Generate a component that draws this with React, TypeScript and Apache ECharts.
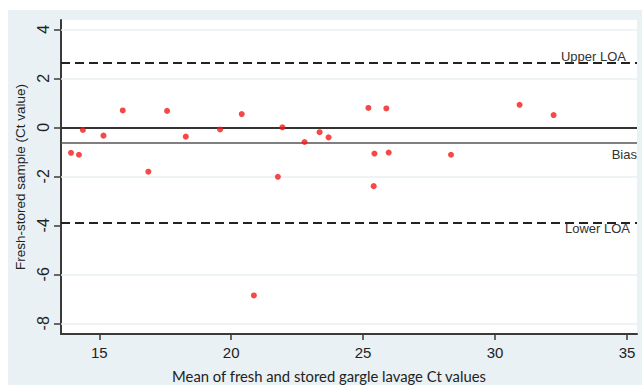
import React, { useEffect, useRef } from "react";
import * as echarts from "echarts";

const meanCt = [13.93, 14.23, 14.38, 15.16, 15.89, 16.86, 17.57, 18.28, 19.58, 20.4, 20.86, 21.77, 21.94, 22.78, 23.35, 23.69, 25.2, 25.4, 25.43, 25.88, 25.97, 28.33, 30.93, 32.22];
const diffCt = [-1.04, -1.12, -0.11, -0.34, 0.69, -1.81, 0.67, -0.38, -0.09, 0.54, -6.86, -2.02, 0.0, -0.6, -0.2, -0.41, 0.79, -2.4, -1.07, 0.77, -1.03, -1.12, 0.92, 0.5];

const xTicks = [15, 20, 25, 30, 35];
const yTicks = [-8, -6, -4, -2, 0, 2, 4];
const yGridLines = [-8, -6, -2, 2, 4];

const upperLOA = 2.62;
const bias = -0.65;
const lowerLOA = -3.89;
const zeroLine = 0;

export default function App() {
  const ref = useRef<HTMLDivElement>(null);
  useEffect(() => {
    document.body.style.margin = "0";
    const chart = echarts.init(ref.current!, null, { renderer: "svg" });
    const labelFont = { fontFamily: "Liberation Sans, Arial, sans-serif", fontSize: 13, color: "#333" };
    chart.setOption({
      animation: false,
      backgroundColor: "#e9f1f4",
      graphic: [
        { type: "rect", left: 0, top: 0, shape: { width: 642, height: 10 }, style: { fill: "#fff" } },
        { type: "rect", left: 0, top: 0, shape: { width: 8, height: 388 }, style: { fill: "#fff" } },
        { type: "rect", left: 0, top: 385, shape: { width: 642, height: 3 }, style: { fill: "#fff" } },
      ],
      grid: {
        left: 61,
        right: 5,
        top: 20,
        bottom: 53,
        show: true,
        backgroundColor: "#ffffff",
        borderWidth: 0,
      },
      xAxis: {
        type: "value",
        min: 13.55,
        max: 35.38,
        name: "Mean of fresh and stored gargle lavage Ct values",
        nameLocation: "middle",
        nameGap: 34,
        nameTextStyle: { fontFamily: "Lato, sans-serif", fontSize: 14.8, color: "#222", padding: [0, 40, 0, 0] },
        axisLine: { show: true, onZero: false, lineStyle: { color: "#3a3a3a", width: 2 } },
        axisTick: { show: true, length: 6, customValues: xTicks, lineStyle: { color: "#3a3a3a", width: 1.5 } },
        axisLabel: {
          customValues: xTicks,
          margin: 11,
          fontFamily: "Liberation Sans, Arial, sans-serif",
          fontSize: 15,
          color: "#222",
        },
        splitLine: { show: false },
      },
      yAxis: {
        type: "value",
        min: -8.435,
        max: 4.38,
        name: "Fresh-stored sample (Ct value)",
        nameLocation: "middle",
        nameGap: 25,
        nameTextStyle: { fontFamily: "Liberation Sans, Arial, sans-serif", fontSize: 13.5, color: "#222" },
        axisLine: { show: true, onZero: false, lineStyle: { color: "#3a3a3a", width: 2 } },
        axisTick: { show: true, length: 7, customValues: yTicks, lineStyle: { color: "#3a3a3a", width: 1.5 } },
        axisLabel: {
          customValues: yTicks,
          rotate: 90,
          margin: 10,
          fontFamily: "Liberation Sans, Arial, sans-serif",
          fontSize: 16,
          color: "#222",
        },
        splitLine: { show: false },
      },
      series: [
        {
          type: "line",
          data: [],
          silent: true,
          z: 1,
          markLine: {
            silent: true,
            z: 1,
            symbol: ["none", "none"],
            label: { show: false },
            lineStyle: { color: "#e8f0f3", width: 1.5, type: "solid" },
            data: yGridLines.map((v) => ({ yAxis: v })),
          },
        },
        {
          type: "scatter",
          z: 10,
          data: meanCt.map((x, i) => [x, diffCt[i]]),
          symbol: "circle",
          symbolSize: 6,
          itemStyle: { color: "#f21c1c" },
          markLine: {
            silent: true,
            z: 3,
            symbol: ["none", "none"],
            data: [
              {
                yAxis: zeroLine,
                lineStyle: { color: "#333", width: 2, type: "solid" },
                label: { show: false },
              },
              {
                yAxis: bias,
                lineStyle: { color: "#555", width: 1.5, type: "solid" },
                label: { show: true, formatter: "Bias", position: "insideEndBottom", distance: [0, 5], ...labelFont },
              },
              {
                yAxis: upperLOA,
                lineStyle: { color: "#222", width: 2, type: [9, 5] },
                label: { show: true, formatter: "Upper LOA", position: "insideEndTop", distance: [11, 0], ...labelFont },
              },
              {
                yAxis: lowerLOA,
                lineStyle: { color: "#222", width: 2, type: [9, 5] },
                label: { show: true, formatter: "Lower LOA", position: "insideEndBottom", distance: [7, -1], ...labelFont },
              },
            ],
          },
        },
      ],
    });
    return () => chart.dispose();
  }, []);
  return <div ref={ref} style={{ width: 642, height: 388, position: "fixed", left: 0, top: 0 }} />;
}
